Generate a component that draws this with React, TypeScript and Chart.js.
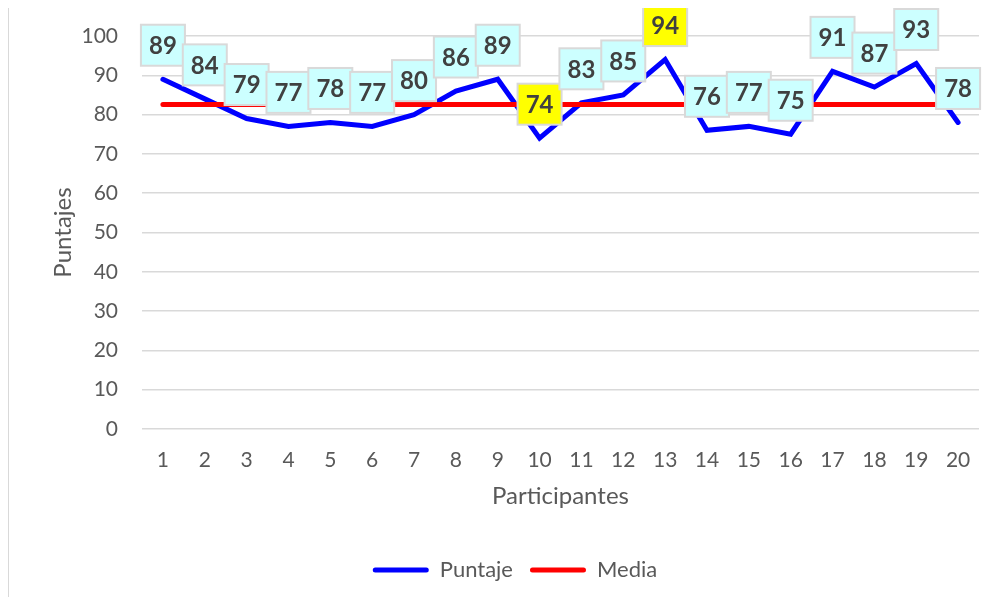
import { useEffect, useRef } from "react";
import { Chart, registerables } from "chart.js";

Chart.register(...registerables);

const participantes = ["1", "2", "3", "4", "5", "6", "7", "8", "9", "10", "11", "12", "13", "14", "15", "16", "17", "18", "19", "20"];
const puntaje = [89, 84, 79, 77, 78, 77, 80, 86, 89, 74, 83, 85, 94, 76, 77, 75, 91, 87, 93, 78];
const media = [82.6, 82.6, 82.6, 82.6, 82.6, 82.6, 82.6, 82.6, 82.6, 82.6, 82.6, 82.6, 82.6, 82.6, 82.6, 82.6, 82.6, 82.6, 82.6, 82.6];

const FONT = "Lato, 'Open Sans', sans-serif";
const TEXT = "#595959";
const GRID = "#D9D9D9";
const LEGEND_SHIFT = 21;

const boxLabels = {
  id: "boxLabels",
  afterDatasetsDraw(chart: any) {
    const idx = chart.data.datasets.findIndex((d: any) => d.label === "Puntaje");
    if (idx < 0) return;
    const meta = chart.getDatasetMeta(idx);
    const data = chart.data.datasets[idx].data as number[];
    const max = Math.max(...data);
    const min = Math.min(...data);
    const ctx = chart.ctx;
    ctx.save();
    ctx.font = `bold 24px ${FONT}`;
    ctx.textAlign = "center";
    ctx.textBaseline = "middle";
    meta.data.forEach((el: any, i: number) => {
      const v = data[i];
      const w = 44;
      const h = 41;
      const cx = el.x;
      const cy = el.y - 34;
      ctx.fillStyle = v === max || v === min ? "#FFFF00" : "#CCFFFF";
      ctx.fillRect(cx - w / 2, cy - h / 2, w, h);
      ctx.lineWidth = 2;
      ctx.strokeStyle = GRID;
      ctx.strokeRect(cx - w / 2, cy - h / 2, w, h);
      ctx.fillStyle = "#404040";
      ctx.fillText(String(v), cx, cy + 1);
    });
    ctx.restore();
  },
};

const legendShift = {
  id: "legendShift",
  afterLayout(chart: any) {
    if (chart.legend) {
      chart.legend.left += LEGEND_SHIFT;
      chart.legend.right += LEGEND_SHIFT;
    }
  },
};

export default function App() {
  const ref = useRef<HTMLCanvasElement | null>(null);

  useEffect(() => {
    if (!ref.current) return;
    const chart = new Chart(ref.current, {
      type: "line",
      data: {
        labels: participantes,
        datasets: [
          {
            label: "Media",
            data: media,
            borderColor: "#FF0000",
            backgroundColor: "#FF0000",
            borderWidth: 5,
            pointRadius: 0,
            tension: 0,
            borderCapStyle: "round",
          },
          {
            label: "Puntaje",
            data: puntaje,
            borderColor: "#0000FF",
            backgroundColor: "#0000FF",
            borderWidth: 5,
            pointRadius: 0,
            tension: 0,
            borderCapStyle: "round",
            borderJoinStyle: "miter",
          },
        ],
      },
      options: {
        animation: false,
        responsive: true,
        maintainAspectRatio: false,
        layout: { padding: { top: 28, right: 19, bottom: 6, left: 0 } },
        plugins: {
          tooltip: { enabled: false },
          legend: {
            position: "bottom",
            reverse: true,
            labels: {
              boxWidth: 56,
              boxHeight: 5,
              padding: 17,
              color: TEXT,
              font: { family: FONT, size: 22 },
              generateLabels: (c: any) =>
                c.data.datasets.map((ds: any, i: number) => ({
                  text: ds.label,
                  fillStyle: ds.borderColor,
                  strokeStyle: ds.borderColor,
                  lineWidth: 0,
                  hidden: false,
                  datasetIndex: i,
                  borderRadius: 2.5,
                  fontColor: TEXT,
                })),
            },
          },
        },
        scales: {
          x: {
            offset: true,
            grid: { display: false, drawTicks: false },
            border: { display: false },
            ticks: { color: TEXT, padding: 19, font: { family: FONT, size: 21 } },
            title: {
              display: true,
              text: "Participantes",
              color: TEXT,
              font: { family: FONT, size: 24 },
              padding: { top: 31, bottom: 31 },
            },
            afterFit: (s: any) => {
              s.height = 113;
            },
          },
          y: {
            min: 0,
            max: 100,
            ticks: { stepSize: 10, color: TEXT, padding: 24, font: { family: FONT, size: 21 } },
            grid: { color: GRID, lineWidth: 1.5, drawTicks: false },
            border: { display: false },
            title: {
              display: true,
              text: "Puntajes",
              color: TEXT,
              font: { family: FONT, size: 24 },
              padding: { top: 40, bottom: 40 },
            },
            afterFit: (s: any) => {
              s.width = 133;
              s.paddingTop = 12;
              s.paddingBottom = 12;
            },
          },
        },
      },
      plugins: [boxLabels, legendShift],
    });
    return () => chart.destroy();
  }, []);

  return (
    <div
      style={{
        position: "relative",
        width: 990,
        height: 590,
        marginTop: -1,
        borderLeft: "1px solid #D9D9D9",
        borderTop: "1px solid #D9D9D9",
        boxSizing: "border-box",
        background: "#FFFFFF",
      }}
    >
      <canvas ref={ref} />
    </div>
  );
}
